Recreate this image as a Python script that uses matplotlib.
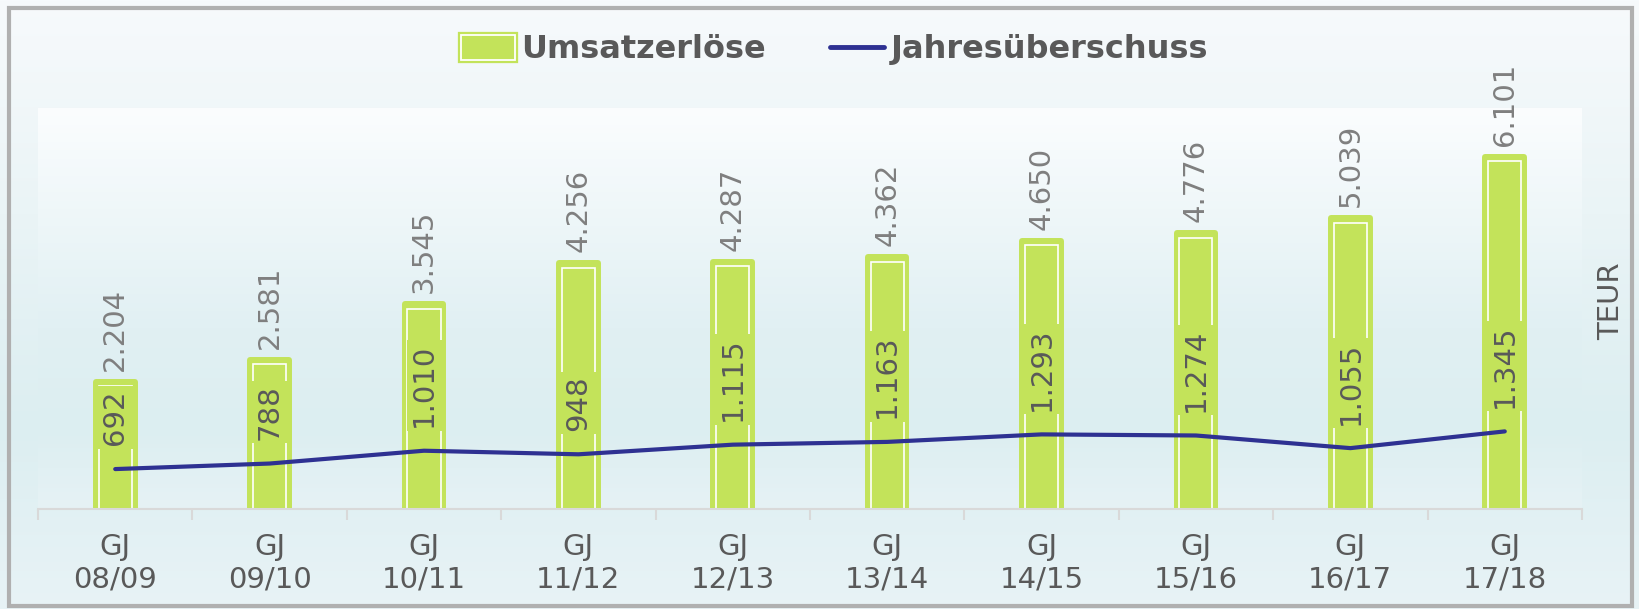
import numpy as np
import matplotlib.pyplot as plt
from matplotlib.colors import LinearSegmentedColormap
from matplotlib.patches import Rectangle
from matplotlib.legend_handler import HandlerTuple
from matplotlib.lines import Line2D

years = ["08/09", "09/10", "10/11", "11/12", "12/13", "13/14", "14/15", "15/16", "16/17", "17/18"]
umsatz = [2204, 2581, 3545, 4256, 4287, 4362, 4650, 4776, 5039, 6101]
ueberschuss = [692, 788, 1010, 948, 1115, 1163, 1293, 1274, 1055, 1345]

green = "#C3E35A"
blue = "#2E3192"
grey_txt = "#595959"

def fmt(v):
    return f"{v:,}".replace(",", ".")

fig = plt.figure(figsize=(16.39, 6.09), dpi=100)

# Hintergrund mit Verlauf
bg = fig.add_axes([0, 0, 1, 1], zorder=-2)
cm_bg = LinearSegmentedColormap.from_list("bg", [(0, "#F7FAFC"), (0.35, "#EAF4F6"), (0.7, "#DCEEF1"), (1, "#E8F3F6")])
bg.imshow(np.linspace(0, 1, 256)[:, None], aspect="auto", cmap=cm_bg, extent=[0, 1, 0, 1])
bg.set_xlim(0, 1)
bg.set_ylim(0, 1)
bg.axis("off")
bg.add_patch(Rectangle((0.0055, 0.005), 0.99, 0.982, fill=False, edgecolor="#B0B0B0", lw=3))

ax = fig.add_axes([0.0232, 0.1642, 0.9420, 0.6585])
ax.set_facecolor("none")
cm_ax = LinearSegmentedColormap.from_list("ax", [(0, "#FBFDFE"), (0.55, "#E1F0F3"), (0.8, "#DCEEF1"), (1, "#E6F2F5")])
ax.imshow(np.linspace(0, 1, 256)[:, None], aspect="auto", cmap=cm_ax,
          extent=[-0.5, 9.5, 0, 6950], zorder=0)

x = np.arange(len(years))
ax.bar(x, umsatz, width=0.25, color=green, edgecolor=green, linewidth=4.3,
       joinstyle="round", zorder=2)
ax.bar(x, [u - 75 for u in umsatz], width=0.214, facecolor="none",
       edgecolor="white", linewidth=1.2, zorder=3)
ax.plot(x, ueberschuss, color=blue, lw=3, solid_capstyle="round", zorder=4)

for xi, u, j in zip(x, umsatz, ueberschuss):
    ax.annotate(fmt(u), (xi, u), xytext=(0, 8), textcoords="offset points",
                rotation=90, ha="center", va="bottom", fontsize=21, color="#7F7F7F", zorder=5)
    ax.annotate(fmt(j), (xi, j), xytext=(0, 17), textcoords="offset points",
                rotation=90, ha="center", va="bottom", fontsize=21, color=grey_txt, zorder=5,
                bbox=dict(boxstyle="square,pad=0.12", fc=green, ec="none"))

ax.set_xlim(-0.5, 9.5)
ax.set_ylim(0, 6950)
ax.set_xticks(x)
ax.set_xticklabels(["GJ\n" + y for y in years], fontsize=21, color=grey_txt, linespacing=1.2)
ax.set_xticks(np.arange(-0.5, 10, 1), minor=True)
ax.tick_params(axis="x", which="major", length=0, pad=17)
ax.tick_params(axis="x", which="minor", length=8, color="#D9D9D9", width=1.5)
ax.set_yticks([])
for s in ["top", "left", "right"]:
    ax.spines[s].set_visible(False)
ax.spines["bottom"].set_color("#D9D9D9")
ax.spines["bottom"].set_linewidth(1.5)
ax.spines["bottom"].set_zorder(6)

fig.text(0.983, 0.505, "TEUR", rotation=90, ha="center", va="center", fontsize=21, color=grey_txt)

# Legende
h_bar = (Rectangle((0, 0), 1, 1, fc=green, ec=green, lw=4.5, joinstyle="round"),
         Rectangle((0, 0), 1, 1, fc="none", ec="white", lw=1.3))
h_line = Line2D([], [], color=blue, lw=3.5, solid_capstyle="round")
fig.legend([h_bar, h_line], ["Umsatzerlöse", "Jahresüberschuss"],
           handler_map={tuple: HandlerTuple(ndivide=1, pad=0)},
           loc="center", bbox_to_anchor=(0.509, 0.918), ncol=2, frameon=False,
           prop=dict(size=23, weight="bold"), labelcolor=grey_txt,
           handlelength=1.7, handleheight=0.85, handletextpad=0.2, columnspacing=2.0)

fig.savefig("out.png", dpi=100)
